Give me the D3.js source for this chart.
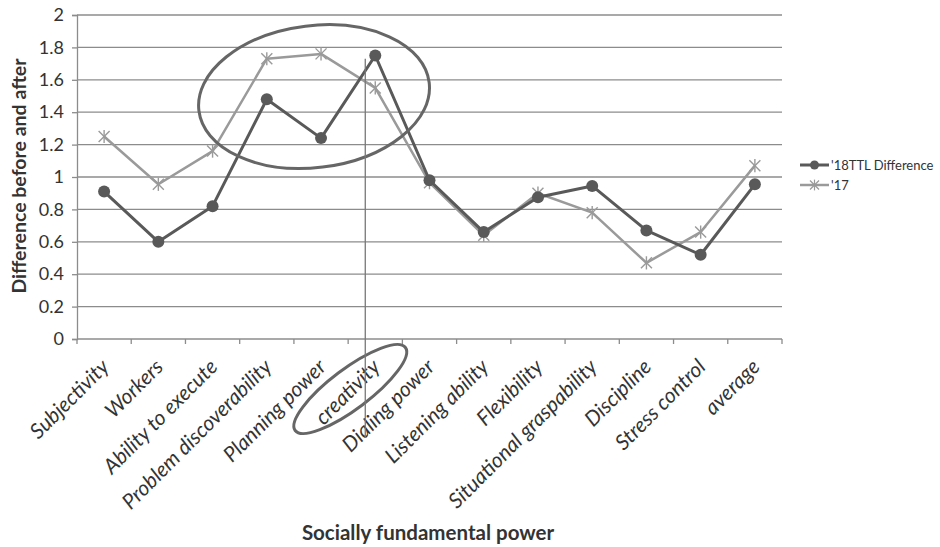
<!DOCTYPE html>
<html>
<head>
<meta charset="utf-8">
<script src="https://cdn.jsdelivr.net/npm/d3@7"></script>
<style>
  html, body { margin: 0; padding: 0; background: #fff; }
  svg { display: block; font-family: Lato, "Open Sans", sans-serif; }
</style>
</head>
<body>
<svg id="chart" width="940" height="547"></svg>
<script>
// Categories of socially fundamental power
const categories = [
  "Subjectivity", "Workers", "Ability to execute", "Problem discoverability",
  "Planning power", "creativity", "Dialing power", "Listening ability",
  "Flexibility", "Situational graspability", "Discipline", "Stress control", "average"
];
// Difference before and after, per cohort
const series18 = [0.91, 0.60, 0.82, 1.48, 1.24, 1.75, 0.98, 0.66, 0.875, 0.945, 0.67, 0.52, 0.955];
const series17 = [1.25, 0.955, 1.16, 1.73, 1.76, 1.55, 0.965, 0.64, 0.90, 0.78, 0.47, 0.66, 1.07];
const seriesNames = ["'18TTL Difference", "'17"];
const yTicks = [0, 0.2, 0.4, 0.6, 0.8, 1, 1.2, 1.4, 1.6, 1.8, 2];

const svg = d3.select("#chart");
const plot = { left: 77, right: 782, top: 15, bottom: 339 };

const x = d3.scaleBand().domain(categories).range([plot.left, plot.right]);
const xc = c => x(c) + x.bandwidth() / 2;
const y = d3.scaleLinear().domain([0, 2]).range([plot.bottom, plot.top]);

const gridColor = "#8c8c8c";
const dark = "#595959";
const light = "#9a9a9a";
const textColor = "#333";

// Horizontal gridlines
svg.append("g").selectAll("line")
  .data(yTicks.filter(t => t > 0))
  .join("line")
  .attr("x1", plot.left).attr("x2", plot.right)
  .attr("y1", d => y(d)).attr("y2", d => y(d))
  .attr("stroke", gridColor).attr("stroke-width", 1.3);

// Y axis
const yAxis = svg.append("g")
  .attr("transform", `translate(${plot.left},0)`)
  .call(d3.axisLeft(y).tickValues(yTicks).tickSize(5).tickPadding(8)
    .tickFormat(d => d3.format("")(+d.toFixed(1))));
yAxis.selectAll("path, line").attr("stroke", gridColor).attr("stroke-width", 1.3);
yAxis.selectAll("text").attr("font-size", 18).attr("fill", textColor)
  .attr("font-family", "Lato, sans-serif");

// X axis: tick marks at category boundaries
const xAxisG = svg.append("g");
xAxisG.append("line")
  .attr("x1", plot.left).attr("x2", plot.right)
  .attr("y1", plot.bottom).attr("y2", plot.bottom)
  .attr("stroke", gridColor).attr("stroke-width", 1.3);
xAxisG.selectAll("line.tk")
  .data(categories.concat([null]))
  .join("line").attr("class", "tk")
  .attr("x1", d => d ? x(d) : plot.right)
  .attr("x2", d => d ? x(d) : plot.right)
  .attr("y1", plot.bottom).attr("y2", plot.bottom + 5)
  .attr("stroke", gridColor).attr("stroke-width", 1.3);

// Rotated category labels
xAxisG.selectAll("text")
  .data(categories)
  .join("text")
  .attr("transform", d => `translate(${xc(d) + 1},${plot.bottom + 24}) rotate(-45)`)
  .attr("text-anchor", "end")
  .attr("dy", "0.35em")
  .attr("font-size", 21)
  .attr("font-style", "italic")
  .attr("fill", textColor)
  .text(d => d);

// Axis titles
svg.append("text")
  .attr("transform", `translate(26,${(plot.top + plot.bottom) / 2 - 1}) rotate(-90)`)
  .attr("text-anchor", "middle")
  .attr("font-size", 19.5).attr("font-weight", "bold").attr("fill", textColor)
  .text("Difference before and after");
svg.append("text")
  .attr("x", 428).attr("y", 540)
  .attr("text-anchor", "middle")
  .attr("font-size", 20.5).attr("font-weight", "bold").attr("fill", textColor)
  .text("Socially fundamental power");

// Line generator
const line = d3.line().x((d, i) => xc(categories[i])).y(d => y(d));

// '17 series (light, asterisk markers)
svg.append("path").datum(series17)
  .attr("d", line).attr("fill", "none")
  .attr("stroke", light).attr("stroke-width", 2.5).attr("stroke-linejoin", "round");

function asterisk(g, r) {
  g.append("line").attr("x1", -r).attr("y1", -r).attr("x2", r).attr("y2", r);
  g.append("line").attr("x1", -r).attr("y1", r).attr("x2", r).attr("y2", -r);
  g.append("line").attr("x1", 0).attr("y1", -r * 1.2).attr("x2", 0).attr("y2", r * 1.2);
}
svg.append("g").selectAll("g")
  .data(series17)
  .join("g")
  .attr("transform", (d, i) => `translate(${xc(categories[i])},${y(d)})`)
  .attr("stroke", light).attr("stroke-width", 1.4)
  .each(function () { asterisk(d3.select(this), 5.5); });

// '18 series (dark, circle markers)
svg.append("path").datum(series18)
  .attr("d", line).attr("fill", "none")
  .attr("stroke", dark).attr("stroke-width", 3).attr("stroke-linejoin", "round");
svg.append("g").selectAll("circle")
  .data(series18)
  .join("circle")
  .attr("cx", (d, i) => xc(categories[i]))
  .attr("cy", d => y(d))
  .attr("r", 6)
  .attr("fill", dark);

// Legend
const legend = svg.append("g").attr("transform", "translate(800,165)");
const l1 = legend.append("g");
l1.append("line").attr("x1", 0).attr("x2", 29).attr("stroke", dark).attr("stroke-width", 3);
l1.append("circle").attr("cx", 14.5).attr("r", 4.5).attr("fill", dark);
l1.append("text").attr("x", 31).attr("dy", "0.35em").attr("font-size", 13).attr("fill", textColor)
  .text(seriesNames[0]);
const l2 = legend.append("g").attr("transform", "translate(0,20)");
l2.append("line").attr("x1", 0).attr("x2", 29).attr("stroke", light).attr("stroke-width", 2.5);
const l2m = l2.append("g").attr("transform", "translate(14.5,0)")
  .attr("stroke", light).attr("stroke-width", 1.2);
asterisk(l2m, 4.5);
l2.append("text").attr("x", 31).attr("dy", "0.35em").attr("font-size", 13).attr("fill", textColor)
  .text(seriesNames[1]);

// Highlight annotations around the creativity peak
const ann = svg.append("g").attr("fill", "none").attr("stroke", "#666").attr("stroke-width", 3);
const cx0 = (xc("Problem discoverability") + xc("creativity")) / 2;
ann.append("ellipse")
  .attr("transform", `translate(${cx0 - 7},${y(1.49) - 1}) rotate(-7)`)
  .attr("rx", 116).attr("ry", 71);
svg.append("line")
  .attr("x1", xc("creativity") - 10).attr("x2", xc("creativity") - 10)
  .attr("y1", y(1.73)).attr("y2", 438)
  .attr("stroke", "#777").attr("stroke-width", 1.3);
ann.append("ellipse")
  .attr("transform", `translate(${xc("creativity") - 25},389) rotate(-37)`)
  .attr("rx", 69).attr("ry", 20);
</script>
</body>
</html>
